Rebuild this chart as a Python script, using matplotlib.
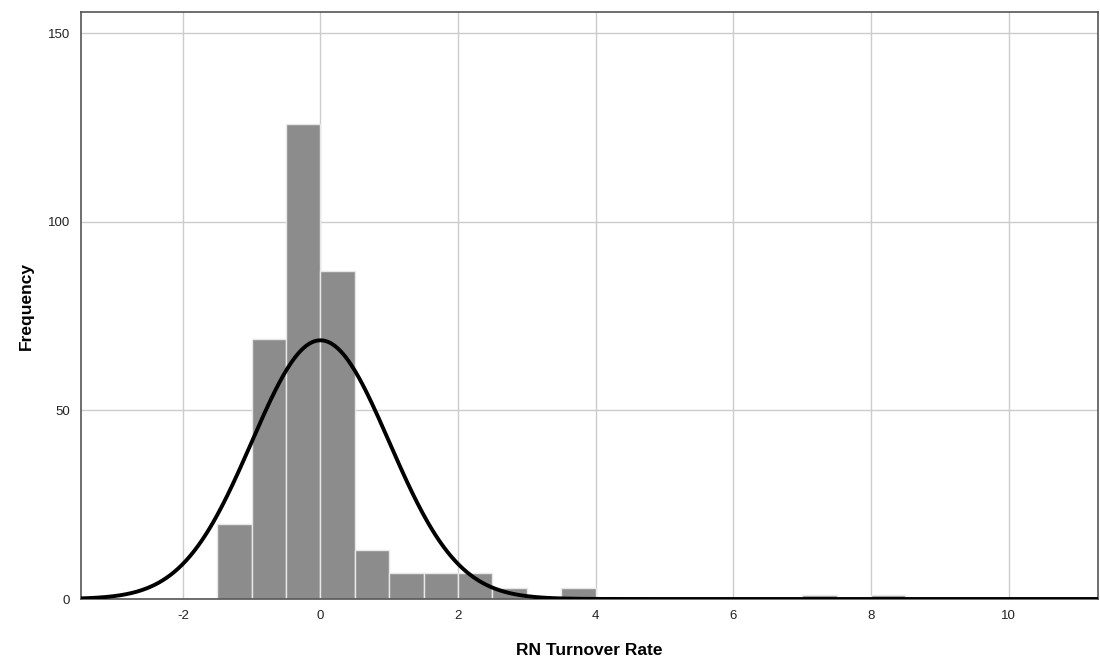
import numpy as np
import matplotlib
matplotlib.use('Agg')
import matplotlib.pyplot as plt

# Histograma (bins de 0.5)
bin_left = [-1.5, -1.0, -0.5, 0.0, 0.5, 1.0, 1.5, 2.0, 2.5, 3.0, 3.5, 7.0, 8.0]
counts = [20, 69, 126, 87, 13, 7, 7, 7, 3, 0, 3, 1, 1]
bin_width = 0.5

# Curva normal
mean = 0.0
std = 1.0
n_total = sum(counts)

plt.rcParams['font.family'] = ['Liberation Sans', 'DejaVu Sans']
plt.rcParams['axes.unicode_minus'] = False

fig = plt.figure(figsize=(11, 6.67), dpi=100)
ax = fig.add_axes([81 / 1100, 1 - 599 / 667, (1098 - 81) / 1100, (599 - 12) / 667])

ax.set_axisbelow(True)
ax.grid(True, color='#cccccc', linewidth=1)

ax.bar(bin_left, counts, width=bin_width, align='edge',
       color='#8c8c8c', edgecolor='#e8e8e8', linewidth=1, zorder=2)

xs = np.linspace(-3.6, 11.5, 800)
ys = n_total * bin_width / (std * np.sqrt(2 * np.pi)) * np.exp(-0.5 * ((xs - mean) / std) ** 2)
ax.plot(xs, ys, color='black', linewidth=2.8, zorder=3)

ax.set_xlim(-3.48, 11.3)
ax.set_ylim(0, 155.7)
ax.set_xticks([-2, 0, 2, 4, 6, 8, 10])
ax.set_yticks([0, 50, 100, 150])
ax.tick_params(length=0, labelsize=9.5, colors='#222222', pad=8)

for s in ax.spines.values():
    s.set_color('#555555')
    s.set_linewidth(1.2)

ax.set_xlabel('RN Turnover Rate', fontsize=12.5, fontweight='bold', labelpad=15)
ax.set_ylabel('Frequency', fontsize=12.5, fontweight='bold', labelpad=10)

fig.savefig('out.png', dpi=100)
